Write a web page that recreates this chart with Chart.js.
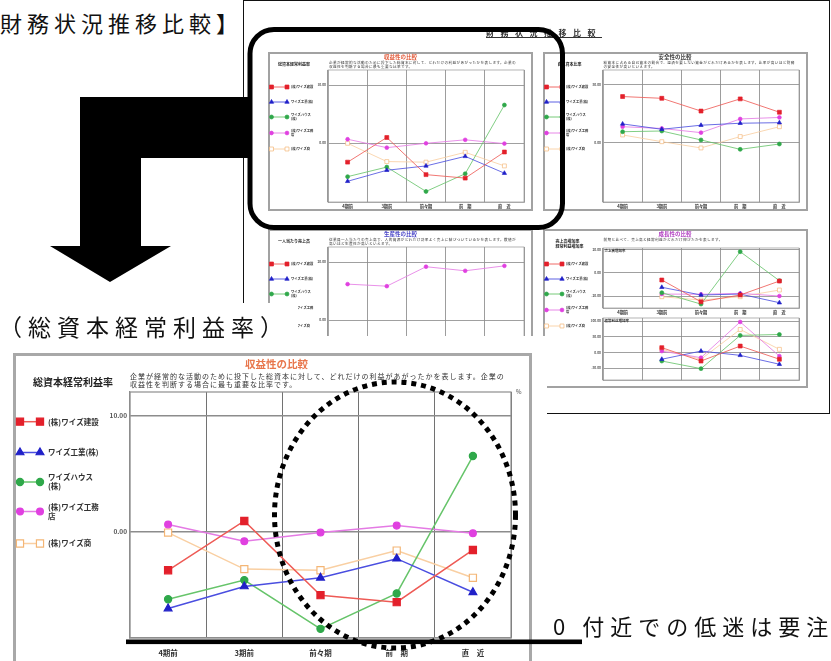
<!DOCTYPE html>
<html lang="ja">
<head>
<meta charset="utf-8">
<title>財務状況推移比較</title>
<script src="https://cdn.jsdelivr.net/npm/chart.js@4.4.1/dist/chart.umd.min.js"></script>
<style>
  html, body { margin: 0; padding: 0; background: #fff; }
  body { width: 831px; height: 661px; position: relative; overflow: hidden;
         font-family: "Noto Sans CJK JP", "Noto Sans", sans-serif; color: #111; }
  .abs { position: absolute; white-space: nowrap; }
  #report { position: absolute; left: 243px; top: 0; width: 587px; height: 414px;
            box-sizing: border-box; border: 1.4px solid #111; z-index: 1; }
  #minis { position: absolute; left: 0; top: 0; width: 831px; height: 661px; z-index: 1; filter: blur(0.45px); }
  .mini { position: absolute; width: 265px; height: 159px; background: #fff; }
  .frame { position: absolute; left: 0; top: 0; right: 0; bottom: 0; box-sizing: border-box; border: 2px solid #a2a2a2; }
  .cover { position: absolute; background: #fff; z-index: 3; }
  #main { position: absolute; left: 13px; top: 353px; width: 519px; height: 308px; z-index: 4; }
  #mainBlur { position: absolute; left: 0; top: 0; width: 519px; height: 308px; filter: blur(0.5px); }
  #mainFrame { position: absolute; left: 0; top: 0; width: 519px; height: 330px; box-sizing: border-box; border: 3px solid #a8a8a8; }
  svg { position: absolute; left: 0; top: 0; overflow: visible; }
</style>
</head>
<body>

<div class="abs" style="left:-27px;top:11px;font-size:22px;line-height:22px;letter-spacing:5px;color:#111;">【財務状況推移比較】</div>

<div id="report"></div>
<div id="minis">
  <div class="abs" style="left:486px;top:28px;font-size:8px;line-height:9px;font-weight:bold;letter-spacing:6.5px;color:#333;text-decoration:underline;">財務状況推移比較</div>
</div>

<!-- 強調枠と矢印 -->
<svg width="831" height="661" style="z-index:2">
  <rect x="250" y="29.5" width="312.5" height="198" rx="24" ry="24" fill="none" stroke="#000" stroke-width="5"/>
  <polygon points="80,97 252,97 252,158 141,158 141,246 171,246 110,282 50,246 80,246" fill="#000"/>
</svg>

<div class="cover" style="left:0;top:303px;width:298px;height:40px;"></div>
<div class="cover" style="left:0;top:336px;width:547px;height:330px;"></div>
<div class="abs" style="left:-1px;top:314.5px;font-size:23px;line-height:23px;letter-spacing:6px;z-index:4;color:#111;">（総資本経常利益率）</div>

<div id="main">
  <div id="mainFrame"></div>
  <div id="mainBlur"></div>
</div>

<!-- 注目範囲 -->
<svg width="831" height="661" style="z-index:5">
  <ellipse cx="395" cy="515" rx="120.5" ry="133" fill="none" stroke="#000" stroke-width="5" stroke-dasharray="5 4.9"/>
  <rect x="126" y="639.5" width="456" height="4.6" fill="#000"/>
</svg>
<div class="abs" style="left:553px;top:614px;font-size:22px;line-height:22px;letter-spacing:6px;z-index:5;color:#111;">0 付近での低迷は要注意</div>

<script>
// ---- データ ----
const periods = ['4期前', '3期前', '前々期', '前　期', '直　近'];
const companies = ['(株)ワイズ建設', 'ワイズ工業(株)', 'ワイズハウス\n(株)', '(株)ワイズ工務\n店', '(株)ワイズ商'];

// 収益性の比較：総資本経常利益率（%）
const roaTicks    = [0, 10];
const roaKensetsu = [-3.3, 0.95, -5.45, -6.05, -1.55];
const roaKogyo    = [-6.6, -4.7, -3.95, -2.3, -5.2];
const roaHouse    = [-5.8, -4.15, -8.35, -5.3, 6.55];
const roaKomuten  = [0.65, -0.8, -0.05, 0.55, -0.1];
const roaShoji    = [-0.05, -3.2, -3.3, -1.6, -3.95];

// 安全性の比較：自己資本比率（%）
const eqTicks    = [0, 50];
const eqKensetsu = [40, 38.5, 27.5, 38, 26.5];
const eqKogyo    = [16.4, 11.8, 15.3, 17, 17.5];
const eqHouse    = [9.7, 10.3, 2.6, -5.5, -0.9];
const eqKomuten  = [14, 12.5, 8.9, 20.7, 22];
const eqShoji    = [6.9, 1.1, -4.3, 5.5, 14];

// 生産性の比較：一人当たり売上高
const prodTicks   = [0, 20];
const prodKomuten = [12.4, 11.7, 18.4, 17, 18.7];

// 成長性の比較：売上高増加率（%）
const salesTicks    = [-20, 0, 20];
const salesKensetsu = [null, -6.1, -25, -19.1, -7];
const salesKogyo    = [null, -12.4, -19.1, -18.3, -25.8];
const salesHouse    = [null, -17.1, -27, 18.5, -6.7];
const salesKomuten  = [null, -18.3, -18.5, -17.7, -20];
const salesShoji    = [null, -20.6, -23.5, -20.6, -14.8];

// 成長性の比較：経常利益増加率（%）
const profitTicks    = [-50, 0, 50, 100];
const profitKensetsu = [null, 15, -27.8, 20, -22];
const profitKogyo    = [null, -22, 4, -9.6, -38];
const profitHouse    = [null, -27.8, -52, 54, 57];
const profitKomuten  = [null, 4, -17, 97, -12];
const profitShoji    = [null, 9.6, -22, 73, 9.6];

// ---- 系列の見た目 ----
const seriesStyles = [
  { line: '#ee5a55', point: '#e3202b', shape: 'rect',     size: 1.4,  hollow: false },
  { line: '#4a4ee0', point: '#2020c8', shape: 'triangle', size: 1.25, hollow: false },
  { line: '#66c46a', point: '#2fa84a', shape: 'circle',   size: 1.0,  hollow: false },
  { line: '#e47ae4', point: '#e040e0', shape: 'circle',   size: 0.95, hollow: false },
  { line: '#f9cfa2', point: '#f4b676', shape: 'rect',     size: 1.4,  hollow: true  }
];

const FONT = '"Noto Sans CJK JP", "Noto Sans", sans-serif';

// プロット枠（上辺・右辺を含む四辺）
const plotFrame = {
  id: 'plotFrame',
  beforeDatasetsDraw(chart, args, o) {
    const { ctx, chartArea: c } = chart;
    ctx.save();
    ctx.strokeStyle = o.color;
    ctx.lineWidth = o.width;
    ctx.strokeRect(c.left, c.top, c.right - c.left, c.bottom - c.top);
    ctx.restore();
  }
};

// 左側の凡例（線＋両端マーカー＋社名）
const sideLegend = {
  id: 'sideLegend',
  afterDraw(chart, args, o) {
    if (!o || !o.ys) return;
    const ctx = chart.ctx;
    ctx.save();
    companies.forEach((name, i) => {
      const st = seriesStyles[i];
      const y = o.ys[i];
      ctx.strokeStyle = st.line;
      ctx.lineWidth = o.lineWidth;
      ctx.beginPath();
      ctx.moveTo(o.x0, y);
      ctx.lineTo(o.x1, y);
      ctx.stroke();
      [o.x0, o.x1].forEach(x => {
        ctx.fillStyle = st.hollow ? '#fff' : st.point;
        ctx.strokeStyle = st.point;
        ctx.lineWidth = o.pointBorder;
        Chart.helpers.drawPoint(ctx, { pointStyle: st.shape, radius: o.radius * st.size,
          borderWidth: o.pointBorder, rotation: 0 }, x, y);
      });
      ctx.fillStyle = o.color;
      ctx.font = `bold ${o.fontSize}px ${FONT}`;
      ctx.textAlign = 'left';
      ctx.textBaseline = 'middle';
      const lines = name.split('\n');
      lines.forEach((ln, k) => ctx.fillText(ln, o.tx, y + (k - (lines.length - 1) / 2) * o.lineH));
    });
    ctx.restore();
  }
};

function lineChart(host, w, h, plot, spec) {
  const cv = document.createElement('canvas');
  cv.width = w; cv.height = h;
  cv.style.cssText = `position:absolute;left:0;top:0;width:${w}px;height:${h}px;`;
  host.appendChild(cv);
  const s = spec.scale;
  const datasets = spec.series.map(([i, data]) => {
    const st = seriesStyles[i];
    return {
      label: companies[i].replace('\n', ''),
      data,
      borderColor: st.line,
      backgroundColor: st.line,
      borderWidth: 1.5 * s,
      pointStyle: st.shape,
      pointRadius: 3.6 * s * st.size,
      pointHoverRadius: 3.6 * s * st.size,
      pointBackgroundColor: st.hollow ? '#fff' : st.point,
      pointBorderColor: st.point,
      pointBorderWidth: 1.2 * s,
      tension: 0,
      spanGaps: false
    };
  });
  return new Chart(cv, {
    type: 'line',
    data: { labels: periods, datasets },
    options: {
      responsive: false,
      animation: false,
      devicePixelRatio: 1,
      events: [],
      layout: { padding: { left: 0, top: plot.top, right: w - plot.right, bottom: 0 } },
      plugins: {
        legend: { display: false },
        tooltip: { enabled: false },
        plotFrame: { color: '#8e8e8e', width: 1.2 * s },
        sideLegend: spec.legend || {}
      },
      scales: {
        x: {
          offset: true,
          afterFit: sc => { sc.height = h - plot.bottom; },
          grid: { offset: true, color: '#727272', lineWidth: Math.max(0.7, 1 * s), drawTicks: false },
          border: { color: '#8e8e8e', width: 1.2 * s },
          ticks: { display: spec.xLabels !== false, color: '#333', padding: spec.xPad,
                   maxRotation: 0, autoSkip: false,
                   font: { family: FONT, size: spec.xFont, weight: 'bold' } }
        },
        y: {
          min: spec.min,
          max: spec.max,
          afterFit: sc => { sc.width = plot.left; },
          afterBuildTicks: sc => { sc.ticks = spec.ticks.map(v => ({ value: v })); },
          grid: { color: '#8c8c8c', lineWidth: 1.5 * s, drawTicks: false },
          border: { color: '#8e8e8e', width: 1.2 * s },
          ticks: { color: '#555', padding: spec.yPad,
                   font: { family: FONT, size: spec.yFont, weight: 'bold' },
                   callback: v => v.toFixed(2) }
        }
      }
    },
    plugins: [plotFrame, sideLegend]
  });
}

function txt(parent, s, css) {
  const d = document.createElement('div');
  d.className = 'abs';
  d.style.cssText += css;
  d.textContent = s;
  parent.appendChild(d);
  return d;
}

// ---- 拡大表示した収益性グラフ ----
const mainBox = document.getElementById('mainBlur');
txt(mainBox, '収益性の比較', 'left:232px;top:5px;font-size:10.5px;line-height:11px;font-weight:bold;color:#e8764c;');
txt(mainBox, '総資本経常利益率', 'left:20px;top:23px;font-size:10px;line-height:11px;font-weight:bold;color:#222;');
txt(mainBox, '企業が経常的な活動のために投下した総資本に対して、どれだけの利益があがったかを表します。企業の',
    'left:117px;top:20px;font-size:7px;line-height:7px;letter-spacing:1px;color:#333;');
txt(mainBox, '収益性を判断する場合に最も重要な比率です。',
    'left:117px;top:27.5px;font-size:7px;line-height:7px;letter-spacing:1px;color:#333;');
txt(mainBox, '%', 'left:503px;top:36px;font-size:6px;line-height:6px;color:#444;');

lineChart(mainBox, 519, 308, { left: 117, top: 39, right: 498, bottom: 285 }, {
  scale: 1,
  series: [[0, roaKensetsu], [1, roaKogyo], [2, roaHouse], [3, roaKomuten], [4, roaShoji]],
  min: -9.14, max: 12.07, ticks: roaTicks,
  xFont: 7.5, xPad: 11, yFont: 6.5, yPad: 3,
  legend: { ys: [68.7, 99.5, 129, 158.5, 190.5], x0: 7, x1: 27, tx: 35,
            radius: 3.6, lineWidth: 1.5, pointBorder: 1.2, fontSize: 7.5, lineH: 9, color: '#333' }
});

// ---- 報告書の縮小パネル ----
const minis = document.getElementById('minis');
const miniLegend = { ys: [35, 50, 65, 81, 97], x0: 3.5, x1: 19, tx: 23,
                     radius: 2, lineWidth: 0.9, pointBorder: 0.7, fontSize: 3.3, lineH: 4, color: '#333' };
const miniPlot = { left: 60, top: 18, right: 256, bottom: 150 };

function miniPanel(x, y, o) {
  const p = document.createElement('div');
  p.className = 'mini';
  p.style.left = x + 'px';
  p.style.top = y + 'px';
  minis.appendChild(p);
  const f = document.createElement('div');
  f.className = 'frame';
  p.appendChild(f);
  txt(p, o.title, `left:0;width:100%;text-align:center;top:2px;font-size:5.5px;line-height:6px;font-weight:bold;color:${o.titleColor};`);
  o.label.forEach((l, k) => txt(p, l, `left:${o.labelX}px;top:${10 + k * 4.5}px;font-size:4px;line-height:4.5px;font-weight:bold;color:#222;`));
  o.desc.forEach((d, k) => txt(p, d, `left:61px;top:${9 + k * 4.2}px;font-size:3.6px;line-height:4px;letter-spacing:0.4px;color:#333;`));
  return p;
}

const miniSpec = (series, ticks, min, max, extra) => Object.assign({
  scale: 0.55, series, ticks, min, max,
  xFont: 4.2, xPad: 1.5, yFont: 3.2, yPad: 2, legend: miniLegend
}, extra || {});

const p1 = miniPanel(268, 52, {
  title: '収益性の比較', titleColor: '#e25a3a', label: ['総資本経常利益率'], labelX: 10,
  desc: ['企業が経常的な活動のために投下した総資本に対して、どれだけの利益があがったかを表します。企業の',
         '収益性を判断する場合に最も重要な比率です。']
});
lineChart(p1, 265, 159, miniPlot, miniSpec(
  [[0, roaKensetsu], [1, roaKogyo], [2, roaHouse], [3, roaKomuten], [4, roaShoji]],
  roaTicks, -10.17, 12.59));

const p2 = miniPanel(542.5, 52, {
  title: '安全性の比較', titleColor: '#333', label: ['自己資本比率'], labelX: 15,
  desc: ['総資本に占める自己資本の割合で、返済を要しない資金がどれだけあるかを表します。比率が高いほど財務',
         'の安全性が高いといえます。']
});
lineChart(p2, 265, 159, miniPlot, miniSpec(
  [[0, eqKensetsu], [1, eqKogyo], [2, eqHouse], [3, eqKomuten], [4, eqShoji]],
  eqTicks, -50.9, 62.9));

const p3 = miniPanel(268, 229, {
  title: '生産性の比較', titleColor: '#4a46c8', label: ['一人当たり売上高'], labelX: 10,
  desc: ['従業員一人当たりの売上高で、人的資源がどれだけ効率よく売上に結びついているかを表します。数値が',
         '高いほど生産性が高いといえます。']
});
lineChart(p3, 265, 159, miniPlot, miniSpec([[3, prodKomuten]], prodTicks, -20.3, 25.2));

const p4 = miniPanel(542.5, 229, {
  title: '成長性の比較', titleColor: '#b03cc0', label: ['売上高増加率', '経常利益増加率'], labelX: 13,
  desc: ['前期と比べて、売上高と経常利益がどれだけ伸びたかを表します。']
});
lineChart(p4, 265, 159, { left: 60, top: 19, right: 256, bottom: 79 }, miniSpec(
  [[0, salesKensetsu], [1, salesKogyo], [2, salesHouse], [3, salesKomuten], [4, salesShoji]],
  salesTicks, -30.4, 21.7));
lineChart(p4, 265, 159, { left: 60, top: 89, right: 256, bottom: 151 }, miniSpec(
  [[0, profitKensetsu], [1, profitKogyo], [2, profitHouse], [3, profitKomuten], [4, profitShoji]],
  profitTicks, -88.3, 109.6, { xLabels: false, legend: null }));
txt(p4, '売上高増加率', 'left:62px;top:20px;font-size:3.5px;line-height:4px;font-weight:bold;color:#333;');
txt(p4, '経常利益増加率', 'left:62px;top:90px;font-size:3.5px;line-height:4px;font-weight:bold;color:#333;');
</script>
</body>
</html>
